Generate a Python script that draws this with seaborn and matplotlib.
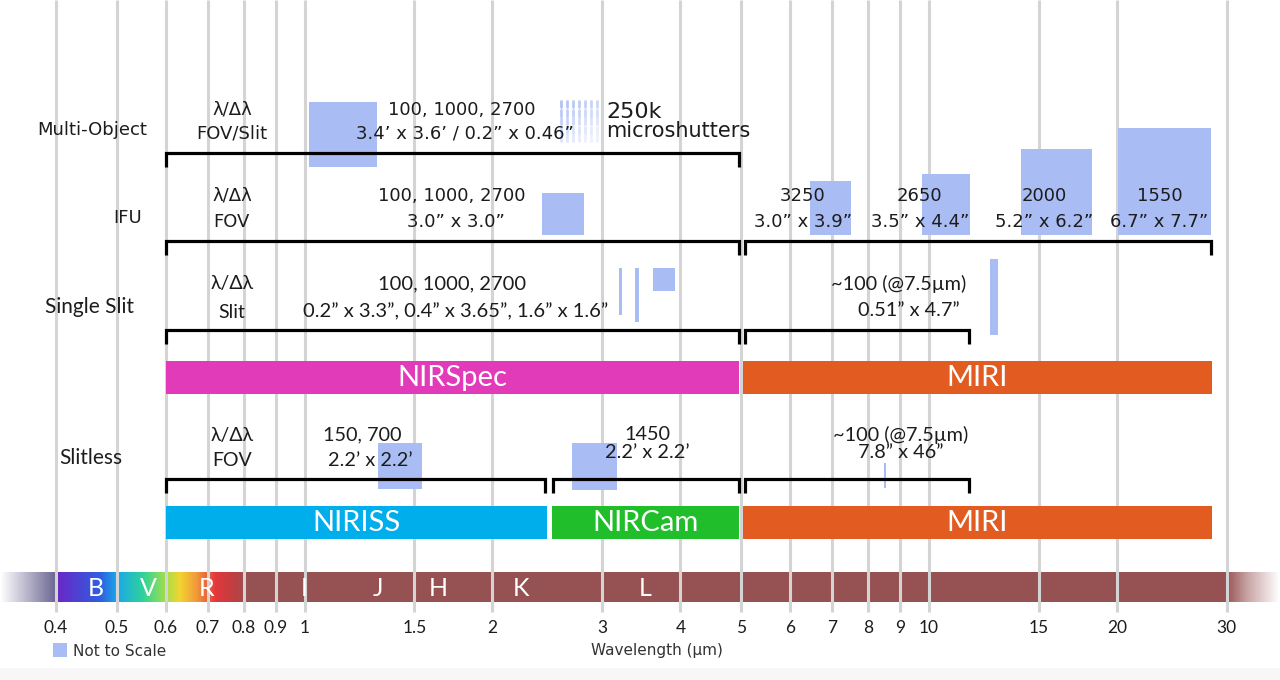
import matplotlib

matplotlib.use("Agg")
import matplotlib.pyplot as plt
import numpy as np
import seaborn as sns
from matplotlib.colors import LinearSegmentedColormap

# --- data (wavelengths in micron) -------------------------------------------
tick_values = [0.4, 0.5, 0.6, 0.7, 0.8, 0.9, 1, 1.5, 2, 3, 4, 5, 6, 7, 8, 9, 10, 15, 20, 30]
tick_labels = ["0.4", "0.5", "0.6", "0.7", "0.8", "0.9", "1", "1.5", "2", "3",
               "4", "5", "6", "7", "8", "9", "10", "15", "20", "30"]

band_names = ["B", "V", "R", "I", "J", "H", "K", "L"]
band_centers = [0.464, 0.562, 0.698, 1.0, 1.31, 1.64, 2.22, 3.51]

instrument_names = ["NIRSpec", "MIRI", "NIRISS", "NIRCam", "MIRI"]
instrument_start = [0.6, 5.03, 0.6, 2.49, 5.03]
instrument_end = [4.97, 28.4, 2.445, 4.97, 28.4]
instrument_colors = ["#e23bb9", "#e25c21", "#00aeec", "#1fbe2a", "#e25c21"]

mode_names = ["Multi-Object", "IFU", "Single Slit", "Slitless"]

# coverage brackets per mode: (start, end)
bracket_mos = [(0.6, 4.97)]
bracket_ifu = [(0.6, 4.97), (5.07, 28.3)]
bracket_slit = [(0.6, 4.97), (5.07, 11.6)]
bracket_slitless = [(0.6, 2.43), (2.5, 4.97), (5.07, 11.6)]

# field-of-view boxes (not to scale): start / end wavelength
fov_mos = [(1.015, 1.304)]
fov_ifu = [(2.405, 2.808)]
fov_miri_ifu = [(6.45, 7.50), (9.75, 11.63), (14.04, 18.24), (20.07, 28.3)]
fov_slit = [(3.19, 3.22), (3.38, 3.43), (3.61, 3.92)]
fov_lrs = [(12.52, 12.9)]
fov_slitless = [(1.309, 1.545), (2.68, 3.17), (8.47, 8.55)]

miri_ifu_res = ["3250", "2650", "2000", "1550"]
miri_ifu_fov = ["3.0\u201d x 3.9\u201d", "3.5\u201d x 4.4\u201d", "5.2\u201d x 6.2\u201d", "6.7\u201d x 7.7\u201d"]
miri_ifu_centers = [6.28, 9.67, 15.3, 23.4]

# spectrum strip colour stops
spec_w = [0.3253, 0.399, 0.401, 0.47, 0.5, 0.55, 0.6, 0.63, 0.67, 0.72, 0.77, 0.81, 30, 32.5, 36.5]
spec_c = ["#ffffff", "#6a6592", "#6a28c6", "#2e5fe0", "#1aa8ea", "#2ed39a",
          "#a6e04a", "#f3d431", "#f19a3a", "#e2373d", "#bf3f42", "#965252",
          "#965252", "#c9a5a5", "#ffffff"]

# --- style ------------------------------------------------------------------
sns.set_theme(style="white")
plt.rcParams["font.family"] = ["Lato", "DejaVu Sans"]
WIDE = ["DejaVu Sans"]
NARROW = ["Lato", "DejaVu Sans"]

FOV_BLUE = "#a9bdf4"
GRID = "#d4d4d4"
INK = "#1c1c1c"
XMIN, XMAX = 0.3253, 36.5

fig = plt.figure(figsize=(12.8, 6.8), dpi=100)

# spectrum strip lives in its own axes with a linear log10(wavelength) axis
lw_min, lw_max = np.log10(XMIN), np.log10(XMAX)
ax_spec = fig.add_axes([0, (680 - 602) / 680, 1, 30 / 680], zorder=0)
ax_spec.set_xlim(lw_min, lw_max)
ax_spec.axis("off")
pos = [(np.log10(w) - lw_min) / (lw_max - lw_min) for w in spec_w]
pos[0], pos[-1] = 0.0, 1.0
spec_cmap = LinearSegmentedColormap.from_list("spec", list(zip(pos, spec_c)), N=2048)
ax_spec.imshow(np.linspace(0, 1, 1280)[None, :], cmap=spec_cmap, vmin=0, vmax=1,
               aspect="auto", extent=(lw_min, lw_max, 0, 1), interpolation="nearest")

ax = fig.add_axes([0, 0, 1, 1], zorder=1)
ax.patch.set_alpha(0)
ax.set_xscale("log")
ax.set_xlim(XMIN, XMAX)
ax.set_ylim(680, 0)
ax.axis("off")

# faint grey at the very bottom
ax.axhspan(668, 680, color="#f7f7f7", zorder=0, lw=0)

# vertical wavelength grid
ax.vlines(tick_values, 0, 612, color=GRID, lw=2.2, zorder=3)

for name, w in zip(band_names, band_centers):
    ax.text(w, 588, name, color="white", fontsize=18, ha="center", va="center", zorder=4)

for lab, w in zip(tick_labels, tick_values):
    ax.text(w, 628, lab, color=INK, fontsize=12.5, ha="center", va="center")

ax.text(3.67, 651, "Wavelength (\u00b5m)", color="#333333", fontsize=11,
        family=WIDE, ha="center", va="center")
ax.fill_between([0.3955, 0.4172], 643, 657, color=FOV_BLUE, lw=0, zorder=4)
ax.text(0.426, 651, "Not to Scale", color="#333333", fontsize=11,
        family=WIDE, ha="left", va="center")

# --- instrument bars --------------------------------------------------------
bar_rows = [377, 377, 522, 522, 522]
for name, x0, x1, col, y in zip(instrument_names, instrument_start, instrument_end,
                                instrument_colors, bar_rows):
    ax.barh(y, x1 - x0, left=x0, height=33, color=col, lw=0, zorder=4)
    ax.text(np.sqrt(x0 * x1), y + 1, name, color="white", fontsize=21,
            ha="center", va="center", zorder=5)


def bracket(spans, y, drop=14):
    for x0, x1 in spans:
        ax.plot([x0, x0, x1, x1], [y + drop, y, y, y + drop], color="black",
                lw=2.3, solid_joinstyle="miter", solid_capstyle="butt", zorder=6)


def boxes(spans, tops, bottoms):
    for (x0, x1), t, b in zip(spans, tops, bottoms):
        ax.fill_between([x0, x1], t, b, color=FOV_BLUE, lw=0, zorder=5)


def txt(x, y, s, size=13, ha="center", fam=WIDE):
    ax.text(x, y, s, color=INK, fontsize=size, family=fam, ha=ha, va="center", zorder=7)


# row labels
txt(0.457, 130, mode_names[0])
txt(0.520, 218, mode_names[1])
txt(0.452, 307, mode_names[2], size=15, fam=NARROW)
txt(0.455, 458, mode_names[3], size=15, fam=NARROW)

# Multi-object
txt(0.765, 110, "\u03bb/\u0394\u03bb")
txt(0.765, 133, "FOV/Slit")
boxes(fov_mos, [102], [167])
txt(1.784, 110, "100, 1000, 2700")
txt(1.805, 133, "3.4\u2019 x 3.6\u2019 / 0.2\u201d x 0.46\u201d")
bracket(bracket_mos, 153)

# microshutter array sketch
gx, gy = np.meshgrid(np.geomspace(2.575, 2.942, 7), np.linspace(104, 138, 5))
fade = 0.9 - 0.12 * np.arange(5)[:, None] - 0.05 * np.arange(7)[None, :]
for x, y, a in zip(gx.ravel(), gy.ravel(), fade.ravel()):
    ax.plot([x, x], [y - 3, y + 3], color=FOV_BLUE, lw=2, alpha=max(a, 0.2), zorder=5)
txt(3.04, 112, "250k", size=16, ha="left")
txt(3.04, 131, "microshutters", size=15, ha="left")

# IFU
txt(0.765, 196, "\u03bb/\u0394\u03bb")
txt(0.765, 222, "FOV")
txt(1.72, 196, "100, 1000, 2700")
txt(1.745, 222, "3.0\u201d x 3.0\u201d")
boxes(fov_ifu, [193], [235])
boxes(fov_miri_ifu, [181, 174, 149, 128], [235, 235, 235, 235])
for res, fov, w in zip(miri_ifu_res, miri_ifu_fov, miri_ifu_centers):
    txt(w, 196, res)
    txt(w, 222, fov)
bracket(bracket_ifu, 241)

# Single slit
txt(0.765, 284, "\u03bb/\u0394\u03bb", size=14, fam=NARROW)
txt(0.765, 313, "Slit", size=14, fam=NARROW)
txt(1.72, 284, "100, 1000, 2700", size=14.5, fam=NARROW)
txt(1.745, 312, "0.2\u201d x 3.3\u201d, 0.4\u201d x 3.65\u201d, 1.6\u201d x 1.6\u201d", size=14.5, fam=NARROW)
boxes(fov_slit, [268, 268, 268], [315, 322, 291])
txt(8.95, 284, "~100 (@7.5\u00b5m)", size=14.3, fam=NARROW)
txt(9.29, 311, "0.51\u201d x 4.7\u201d", size=14.3, fam=NARROW)
boxes(fov_lrs, [259], [335])
bracket(bracket_slit, 330)

# Slitless
txt(0.765, 435, "\u03bb/\u0394\u03bb", size=14, fam=NARROW)
txt(0.765, 461, "FOV", size=14, fam=NARROW)
txt(1.239, 435, "150, 700", size=14.3, fam=NARROW)
txt(1.276, 461, "2.2\u2019 x 2.2\u2019", size=14.3, fam=NARROW)
txt(3.54, 435, "1450", size=14.3, fam=NARROW)
txt(3.54, 452, "2.2\u2019 x 2.2\u2019", size=14.3, fam=NARROW)
txt(9.0, 435, "~100 (@7.5\u00b5m)", size=14.3, fam=NARROW)
txt(9.0, 452, "7.8\u201d x 46\u201d", size=14.3, fam=NARROW)
boxes(fov_slitless, [443, 443, 463], [489, 490, 488])
bracket(bracket_slitless, 479)

fig.savefig("out.png", dpi=100)
